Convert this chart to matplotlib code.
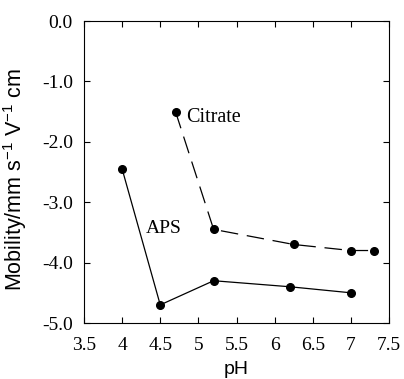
import matplotlib
matplotlib.use("Agg")
import matplotlib.pyplot as plt

plt.rcParams["mathtext.fontset"] = "custom"
plt.rcParams["mathtext.rm"] = "Liberation Sans"
plt.rcParams["mathtext.it"] = "Liberation Sans:italic"
plt.rcParams["mathtext.default"] = "regular"

citrate_ph = [4.7, 5.2, 6.25, 7.0, 7.3]
citrate_mob = [-1.5, -3.45, -3.7, -3.8, -3.8]
aps_ph = [4.0, 4.5, 5.2, 6.2, 7.0]
aps_mob = [-2.45, -4.7, -4.3, -4.4, -4.5]

xticks = [3.5, 4, 4.5, 5, 5.5, 6, 6.5, 7, 7.5]
xticklabels = ["3.5", "4", "4.5", "5", "5.5", "6", "6.5", "7", "7.5"]
yticks = [0, -1, -2, -3, -4, -5]
yticklabels = ["0.0", "-1.0", "-2.0", "-3.0", "-4.0", "-5.0"]

fig = plt.figure(figsize=(4.04, 3.79), dpi=100)
ax = fig.add_axes([84/404, 1-323/379, 305/404, 302/379])

ax.plot(citrate_ph, citrate_mob, color="black", lw=0.9, dashes=(14, 7),
        marker="o", ms=5.5, mfc="black", mec="black")
ax.plot(aps_ph, aps_mob, color="black", lw=0.9,
        marker="o", ms=5.5, mfc="black", mec="black")

serif = ["Liberation Serif", "DejaVu Serif"]
ax.text(4.84, -1.6, "Citrate", fontsize=14.5, family=serif, va="center", ha="left")
ax.text(4.55, -3.43, "APS", fontsize=14, family=serif, va="center", ha="center")

ax.set_xlim(3.5, 7.5)
ax.set_ylim(-5, 0)
ax.set_xticks(xticks)
ax.set_xticklabels(xticklabels, family=serif, fontsize=14)
ax.set_yticks(yticks)
ax.set_yticklabels(yticklabels, family=serif, fontsize=14)
ax.tick_params(direction="in", top=True, right=True, length=4, width=0.8)
ax.tick_params(axis="x", pad=10)
ax.tick_params(axis="y", pad=8)
for s in ax.spines.values():
    s.set_linewidth(0.8)

ax.set_xlabel("pH", fontsize=14, family="Liberation Sans", labelpad=5)
ax.set_ylabel("Mobility/mm s$^{-1}$ V$^{-1}$ cm", fontsize=15.5, family="Liberation Sans")
ax.yaxis.set_label_coords(-0.18, 0.4735)

fig.savefig("out.png", dpi=100)
